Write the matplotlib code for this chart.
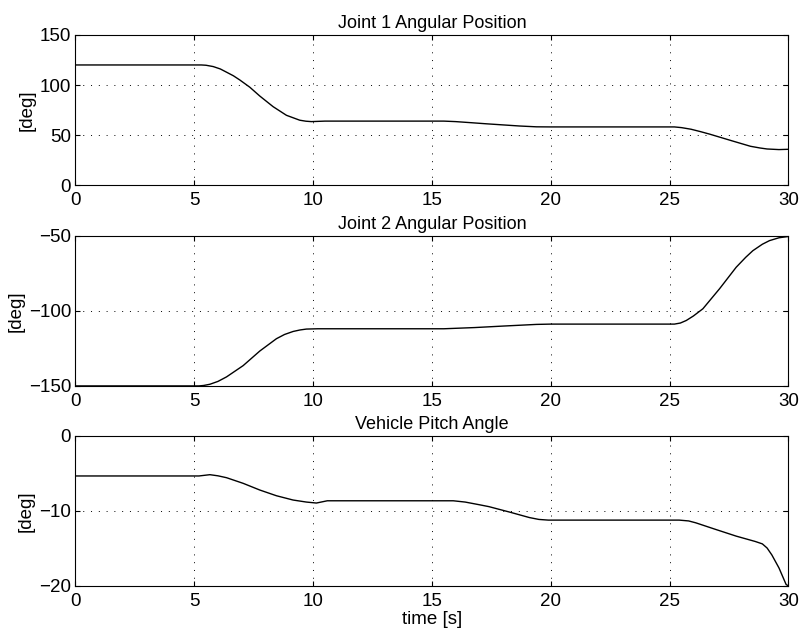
import numpy as np
import matplotlib
matplotlib.use('Agg')
import matplotlib.pyplot as plt

plt.rcParams['font.family'] = ['Liberation Sans', 'DejaVu Sans']
plt.rcParams['font.size'] = 13.5

# joint 1 angular position [deg]
t_joint1 = [0, 5.3, 5.5, 5.8, 6.1, 6.36, 6.65, 6.92, 7.34, 7.76, 8.32, 8.88, 9.2, 9.44,
            9.7, 9.93, 10.5, 15.5, 16.0, 16.6, 17.3, 18.0, 18.7, 19.4, 20.0, 25.2,
            25.5, 25.9, 26.3, 26.7, 27.6, 28.4, 28.8, 29.1, 29.6, 30]
joint1 = [120, 120, 119.7, 118.4, 116.0, 112.8, 109.2, 105, 97.8, 89, 78.4, 69.8, 67.0,
          64.9, 63.9, 63.5, 64.0, 64.0, 63.5, 62.5, 61.3, 60.2, 59.1, 58.3, 58.2, 58.2,
          57.5, 55.9, 53.5, 50.9, 44.5, 38.9, 37.2, 36.2, 35.6, 35.9]

# joint 2 angular position [deg]
t_joint2 = [0, 5.2, 5.4, 5.66, 6.0, 6.36, 7.06, 7.76, 8.46, 8.8, 9.16, 9.45, 9.72,
            10.2, 15.5, 16.8, 18.0, 19.4, 20.0, 25.2, 25.45, 25.7, 26.0, 26.4, 27.1,
            27.8, 28.2, 28.5, 28.9, 29.2, 29.6, 30]
joint2 = [-150, -150, -149.7, -148.9, -147.0, -144, -136.5, -126.8, -118.6, -115.8,
          -113.8, -112.8, -112.2, -112, -112, -111.2, -110.2, -109.1, -108.9, -108.9,
          -108.2, -106.5, -103.5, -98.7, -85.4, -71.1, -64.5, -60.1, -55.8, -53.4,
          -51.5, -50.6]

# vehicle pitch angle [deg]
t_pitch = [0, 5.2, 5.66, 6.0, 6.36, 7.06, 7.76, 8.46, 9.16, 9.72, 10.14, 10.6, 15.9,
           16.4, 17.0, 17.4, 18.3, 19.1, 19.5, 19.9, 25.4, 25.8, 26.1, 26.9, 27.8,
           28.6, 28.9, 29.1, 29.3, 29.6, 29.9, 30]
pitch = [-5.37, -5.37, -5.2, -5.35, -5.6, -6.35, -7.24, -8.0, -8.57, -8.84, -8.97,
         -8.67, -8.67, -8.84, -9.2, -9.45, -10.2, -10.9, -11.15, -11.24, -11.24,
         -11.35, -11.6, -12.44, -13.37, -14.08, -14.4, -14.95, -15.87, -17.6, -19.8, -20]

titles = ['Joint 1 Angular Position', 'Joint 2 Angular Position', 'Vehicle Pitch Angle']
yticks = [[0, 50, 100, 150], [-150, -100, -50], [-20, -10, 0]]
xticks = [0, 5, 10, 15, 20, 25, 30]

fig = plt.figure(figsize=(8.04, 6.40), dpi=100)
left, width, height = 0.0937, 0.887, 0.235
bottoms = [0.7105, 0.397, 0.0844]

series = [(t_joint1, joint1), (t_joint2, joint2), (t_pitch, pitch)]
for i, (t, y) in enumerate(series):
    ax = fig.add_axes([left, bottoms[i], width, height])
    ax.plot(t, y, color='black', linewidth=1.0)
    ax.set_xlim(0, 30)
    ax.set_ylim(yticks[i][0], yticks[i][-1])
    ax.set_xticks(xticks)
    ax.set_yticks(yticks[i])
    ax.grid(True, color='black', linewidth=0.7, linestyle=(0, (1, 7)))
    ax.tick_params(direction='in', length=3.5, width=0.8, top=True, right=True, pad=3)
    ax.tick_params(axis='x', pad=5)
    for s in ax.spines.values():
        s.set_linewidth(0.8)
    ax.set_title(titles[i], fontsize=13, pad=5)
    ax.set_ylabel('[deg]', labelpad=3)

ax.set_xlabel('time [s]', labelpad=1)

fig.savefig('out.png', dpi=100)
